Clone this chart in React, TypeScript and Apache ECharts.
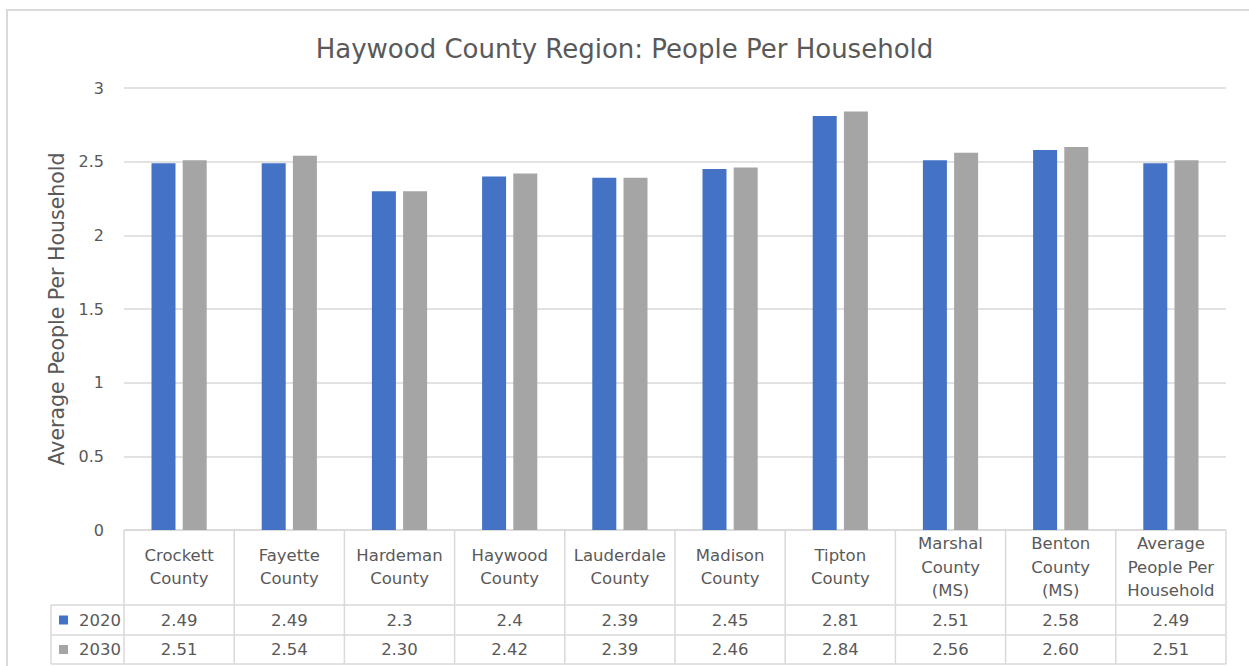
import React, { useEffect, useRef } from "react";
import * as echarts from "echarts";

const categories = [
  "Crockett\nCounty",
  "Fayette\nCounty",
  "Hardeman\nCounty",
  "Haywood\nCounty",
  "Lauderdale\nCounty",
  "Madison\nCounty",
  "Tipton\nCounty",
  "Marshal\nCounty\n(MS)",
  "Benton\nCounty\n(MS)",
  "Average\nPeople Per\nHousehold",
];
const values2020 = [2.49, 2.49, 2.3, 2.4, 2.39, 2.45, 2.81, 2.51, 2.58, 2.49];
const values2030 = [2.51, 2.54, 2.3, 2.42, 2.39, 2.46, 2.84, 2.56, 2.6, 2.51];
const seriesNames = ["2020", "2030"];
const yTicks = { min: 0, max: 3, interval: 0.5 };

const BLUE = "#4472C4";
const GRAY = "#A5A5A5";
const TEXT = "#595959";
const LINE = "#D9D9D9";
const FONT = "'DejaVu Sans', 'Open Sans', sans-serif";

export default function App() {
  const ref = useRef<HTMLDivElement>(null);
  useEffect(() => {
    document.body.style.margin = "0";
    const chart = echarts.init(ref.current!, null, { renderer: "svg" });
    const gridLeft = 124;
    const gridRight = 23;
    const gridTop = 88;
    const gridBottom = 136;
    const W = 1249;
    const H = 666;
    const axisY = H - gridBottom;
    const row1 = 605;
    const row2 = 635;
    const row3 = 664;
    const tableLeft = 51;
    const plotRight = W - gridRight;

    chart.setOption({
      animation: false,
      textStyle: { fontFamily: FONT },
      title: {
        text: "Haywood County Region: People Per Household",
        left: "center",
        top: 31,
        textStyle: { fontFamily: FONT, fontSize: 26, fontWeight: "normal", color: TEXT },
      },
      grid: { left: gridLeft, right: gridRight, top: gridTop, bottom: gridBottom, containLabel: false },
      xAxis: {
        type: "category",
        data: categories,
        axisLine: { show: false },
        axisTick: { show: false },
        axisLabel: {
          interval: 0,
          margin: 37,
          verticalAlign: "middle",
          lineHeight: 23.5,
          fontSize: 16.5,
          color: TEXT,
          fontFamily: FONT,
        },
      },
      yAxis: {
        type: "value",
        min: yTicks.min,
        max: yTicks.max,
        interval: yTicks.interval,
        name: "Average People Per Household",
        nameLocation: "middle",
        nameGap: 56,
        nameRotate: 90,
        nameTextStyle: { fontSize: 20.5, color: TEXT, fontFamily: FONT },
        axisLabel: { fontSize: 16, color: TEXT, margin: 20, fontFamily: FONT },
        splitLine: { lineStyle: { color: LINE, width: 1.5 } },
        axisLine: { show: false },
        axisTick: { show: false },
      },
      series: [
        {
          name: seriesNames[0],
          type: "bar",
          data: values2020,
          barWidth: 24,
          barGap: "30%",
          itemStyle: { color: BLUE },
        },
        {
          name: seriesNames[1],
          type: "bar",
          data: values2030,
          barWidth: 24,
          barGap: "30%",
          itemStyle: { color: GRAY },
        },
      ],
    });

    const n = categories.length;
    const catW = (plotRight - gridLeft) / n;
    const graphics: any[] = [];
    const lineStyle = { stroke: LINE, lineWidth: 1.5 };
    graphics.push({ type: "rect", shape: { x: 7, y: 10, width: 1300, height: 700 }, style: { fill: "none", stroke: LINE, lineWidth: 2 }, silent: true });
    graphics.push({ type: "line", shape: { x1: gridLeft, y1: axisY, x2: plotRight, y2: axisY }, style: lineStyle });
    [row1, row2, row3].forEach((y) =>
      graphics.push({ type: "line", shape: { x1: tableLeft, y1: y, x2: plotRight, y2: y }, style: lineStyle })
    );
    graphics.push({ type: "line", shape: { x1: tableLeft, y1: row1, x2: tableLeft, y2: row3 }, style: lineStyle });
    for (let i = 0; i <= n; i++) {
      const x = gridLeft + i * catW;
      graphics.push({ type: "line", shape: { x1: x, y1: axisY, x2: x, y2: row3 }, style: lineStyle });
    }
    const rows = [
      { name: seriesNames[0], color: BLUE, vals: values2020.map((v) => String(v)), y: (row1 + row2) / 2 },
      { name: seriesNames[1], color: GRAY, vals: values2030.map((v) => v.toFixed(2)), y: (row2 + row3) / 2 },
    ];
    rows.forEach((r) => {
      graphics.push({ type: "rect", shape: { x: 59, y: r.y - 4.5, width: 9, height: 9 }, style: { fill: r.color } });
      graphics.push({
        type: "text",
        x: 121,
        y: r.y,
        style: { text: r.name, fill: TEXT, font: `16.5px ${FONT}`, align: "right", verticalAlign: "middle" },
      });
      r.vals.forEach((t, i) => {
        const cx = chart.convertToPixel({ xAxisIndex: 0 }, i) as number;
        graphics.push({
          type: "text",
          x: cx,
          y: r.y,
          style: { text: t, fill: TEXT, font: `16.5px ${FONT}`, align: "center", verticalAlign: "middle" },
        });
      });
    });
    chart.setOption({ graphic: graphics });

    return () => chart.dispose();
  }, []);
  return <div ref={ref} style={{ width: 1249, height: 666 }} />;
}
